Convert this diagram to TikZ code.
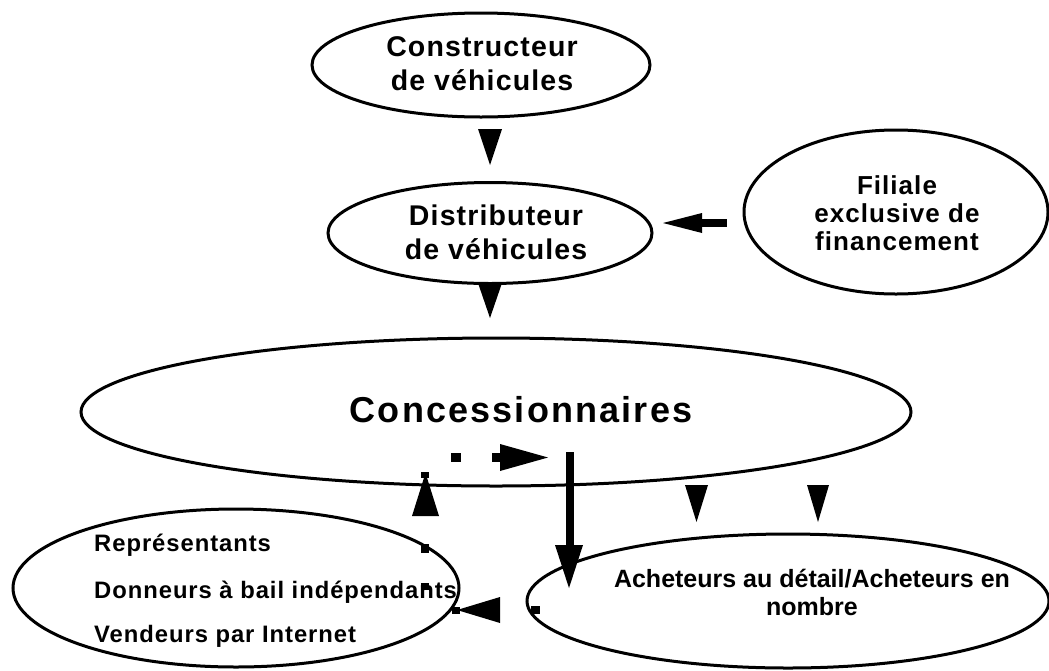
\documentclass[tikz,border=0pt]{standalone}
\usepackage{fontspec}
\setmainfont{Liberation Sans}
\newfontfamily\wide{Liberation Sans}[LetterSpace=4]
\newfontfamily\wider{Liberation Sans}[LetterSpace=6]
\usetikzlibrary{shapes.geometric}
\tikzset{
  ell/.style={ellipse, draw, line width=3pt, inner sep=0pt},
  toplbl/.style={font=\wide\bfseries\fontsize{28.5}{34}\selectfont, align=center},
  fillbl/.style={font=\wide\bfseries\fontsize{26}{28}\selectfont, align=center},
  biglbl/.style={font=\wider\bfseries\fontsize{36}{40}\selectfont},
  buylbl/.style={font=\bfseries\fontsize{25}{28}\selectfont, align=center},
  itemlbl/.style={font=\wide\bfseries\fontsize{23.8}{26}\selectfont, anchor=west, inner sep=0pt},
  tip/.style={fill=black},
}
\begin{document}
\begin{tikzpicture}[x=1pt,y=-1pt]
\useasboundingbox (0,0) rectangle (1049,670);
% ellipses
\node[ell, minimum width=338pt, minimum height=104pt] (cons) at (481,65) {};
\node[toplbl] (consT) at (482,64) {Constructeur\\de véhicules};
\node[ell, minimum width=324pt, minimum height=101pt] (dist) at (490,233) {};
\node[toplbl] (distT) at (496,232) {Distributeur\\de véhicules};
\node[ell, minimum width=304pt, minimum height=164pt] (fil) at (896,212) {};
\node[fillbl] (filT) at (897,213) {Filiale\\exclusive de\\financement};
\node[ell, minimum width=830pt, minimum height=148pt] (conc) at (496,412) {};
\node[biglbl] (concT) at (521,410) {Concessionnaires};
\node[ell, minimum width=446pt, minimum height=158pt] (rep) at (236,588) {};
\node[itemlbl] (r1) at (94,545) {Représentants};
\node[itemlbl] (r2) at (94,592) {Donneurs à bail indépendants};
\node[itemlbl] (r3) at (94,636) {Vendeurs par Internet};
\node[ell, minimum width=522pt, minimum height=134pt] (ach) at (788,601) {};
\node[buylbl] (achT) at (812,592) {Acheteurs au détail/Acheteurs en\\nombre};
% triangles down
\fill[tip] (478,129) -- (502,129) -- (490,165) -- cycle;
\fill[tip] (478,283) -- (502,283) -- (490,318) -- cycle;
\fill[tip] (685,485) -- (708,485) -- (696.5,522) -- cycle;
\fill[tip] (807,485) -- (829,485) -- (818,522) -- cycle;
% filiale -> distributeur
\fill[tip] (702,219) rectangle (727,227);
\fill[tip] (663,223) -- (702,213) -- (702,233) -- cycle;
% vertical thick arrow
\fill[tip] (566,452) rectangle (574,545);
\fill[tip] (555,545) -- (583,545) -- (569,588) -- cycle;
% up arrow with squares
\fill[tip] (412,516) -- (439,516) -- (425.5,473) -- cycle;
\fill[tip] (421,472) rectangle (429,478);
\fill[tip] (421,544) rectangle (429,553);
\fill[tip] (421,583) rectangle (429,590);
% dashed right arrow
\fill[tip] (451,453) rectangle (461,462);
\fill[tip] (492,453) rectangle (500,462);
\fill[tip] (500,444) -- (548,457.5) -- (500,471) -- cycle;
% left arrow bottom
\fill[tip] (457,610) -- (500,597) -- (500,623) -- cycle;
\fill[tip] (452,607) rectangle (460,614);
\fill[tip] (531,606) rectangle (540,614);
\end{tikzpicture}
\end{document}
